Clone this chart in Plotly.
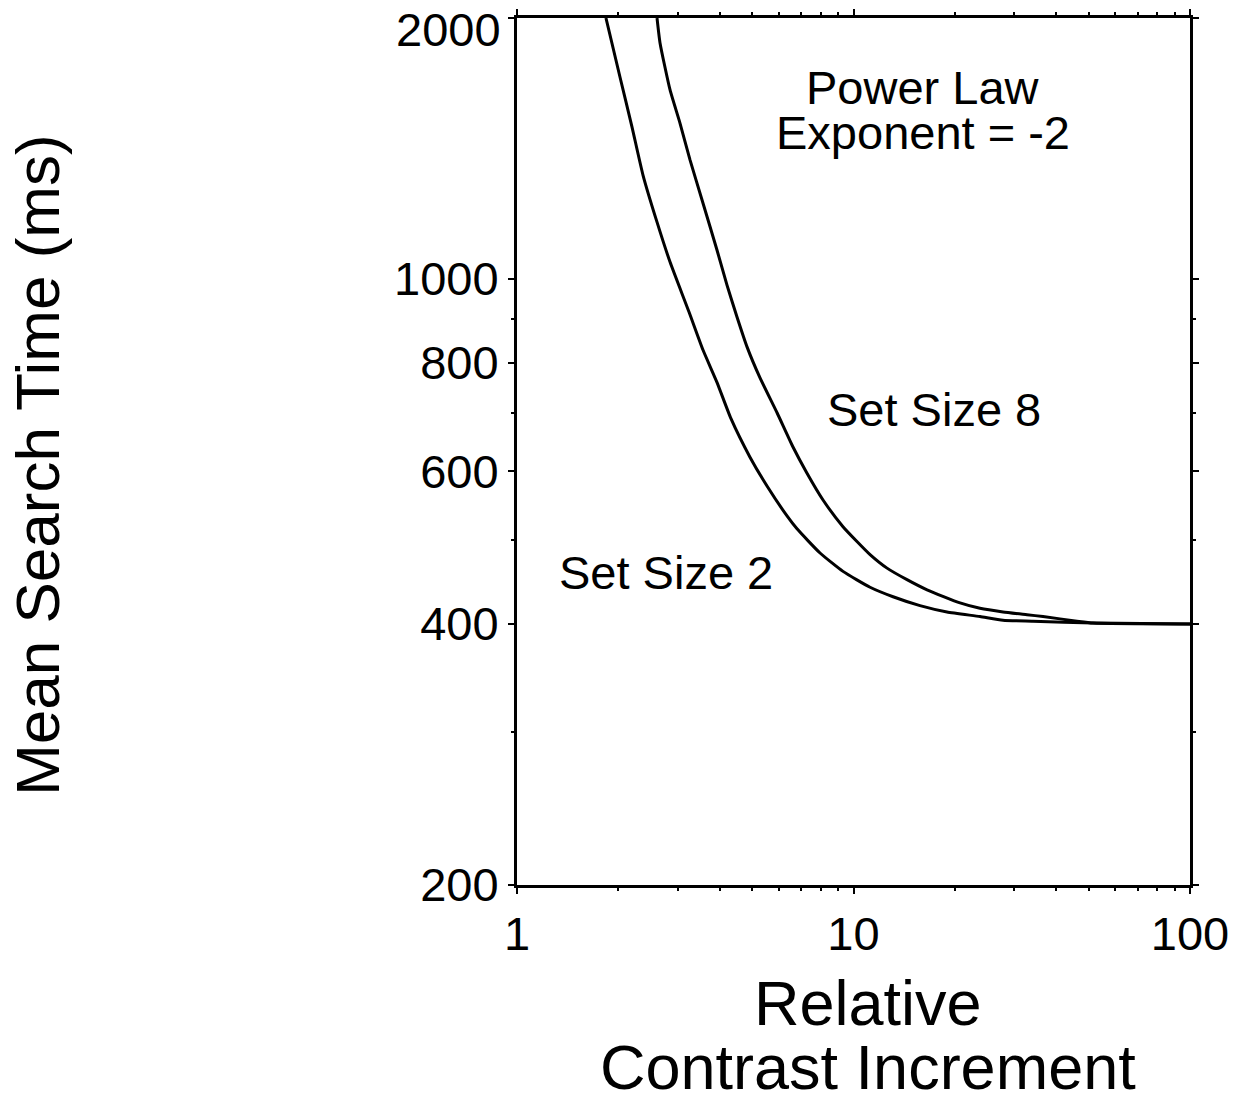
import plotly.graph_objects as go

# Relative contrast increment (x) and mean search time in ms (y)
contrast_set2 = [1.838, 2.023, 2.197, 2.368, 2.607, 2.850, 3.245, 3.571, 3.929, 4.325,
                 4.925, 5.533, 6.345, 6.794, 7.953, 9.307, 11.20, 13.11, 15.76, 18.96,
                 23.76, 27.82, 34.15, 51.5, 100.0]
rt_set2 = [2000, 1710, 1497, 1318, 1163, 1046, 916, 828, 760, 690,
           623, 577, 533, 515, 483, 460, 441, 430, 420, 413,
           408, 404, 403, 401, 400]

contrast_set8 = [2.607, 2.661, 2.850, 3.050, 3.267, 3.571, 3.929, 4.208, 4.506, 4.826,
                 5.275, 5.927, 6.610, 7.275, 8.118, 9.307, 10.24, 11.20, 12.58, 14.42,
                 16.54, 20.73, 23.76, 27.82, 32.78, 36.58, 46.15, 51.5, 100.0]
rt_set8 = [2000, 1872, 1652, 1513, 1372, 1223, 1080, 984, 904, 835,
           769, 701, 640, 597, 556, 518, 498, 481, 464, 450,
           438, 423, 417, 413, 410, 408, 403, 401, 400]

x_ticks = [1, 10, 100]
x_tick_labels = ["1", "10", "100"]
x_minor = [2, 3, 4, 5, 6, 7, 8, 9, 20, 30, 40, 50, 60, 70, 80, 90]
y_ticks = [200, 400, 600, 800, 1000, 2000]
# the top label is drawn separately, nudged below the frame edge
y_tick_labels = ["200", "400", "600", "800", "1000", ""]
y_top_label = "2000"
y_minor = [300, 500, 700, 900]

FONT = "Liberation Sans, Arial, sans-serif"

fig = go.Figure()
for xs, ys in [(contrast_set2, rt_set2), (contrast_set8, rt_set8)]:
    fig.add_trace(go.Scatter(x=xs, y=ys, mode="lines",
                             line=dict(color="black", width=3,
                                       shape="spline", smoothing=0.5),
                             showlegend=False, hoverinfo="skip"))

axis_common = dict(
    type="log", showline=True, linecolor="black", linewidth=3,
    mirror="ticks", ticks="outside", ticklen=6, tickwidth=2, tickcolor="black",
    showgrid=False, zeroline=False, ticklabeloverflow="allow", automargin=False,
    tickfont=dict(family=FONT, size=47, color="black"),
)

fig.update_xaxes(**axis_common, range=[-0.00001, 2.00001], tickmode="array",
                 tickvals=x_ticks, ticktext=x_tick_labels,
                 minor=dict(ticks="outside", ticklen=3, tickwidth=2,
                            tickcolor="black", tickvals=x_minor, showgrid=False))
fig.update_yaxes(**axis_common, range=[2.30102, 3.30104], tickmode="array",
                 tickvals=y_ticks, ticktext=y_tick_labels,
                 minor=dict(ticks="outside", ticklen=3, tickwidth=2,
                            tickcolor="black", tickvals=y_minor, showgrid=False))

def label(text, x, y, size=47, angle=0, xanchor="center"):
    fig.add_annotation(text=text, xref="paper", yref="paper", x=x, y=y,
                       xanchor=xanchor, yanchor="middle", showarrow=False,
                       textangle=angle, borderpad=0,
                       font=dict(family=FONT, size=size, color="black"))

label(y_top_label, -0.0225, 0.9862, xanchor="right")
label("Power Law", 0.6035, 0.9204)
label("Exponent = -2", 0.6035, 0.8674)
label("Set Size 8", 0.6195, 0.5479)
label("Set Size 2", 0.2214, 0.361)
label("Relative", 0.5215, -0.1361, size=63)
label("Contrast Increment", 0.5215, -0.2099, size=63)
label("Mean Search Time (ms)", -0.7135, 0.4844, size=62, angle=-90)

fig.update_layout(
    width=1235, height=1097,
    margin=dict(l=517, r=45, t=18, b=212),
    paper_bgcolor="white", plot_bgcolor="white",
)

fig.write_html("out.html")
